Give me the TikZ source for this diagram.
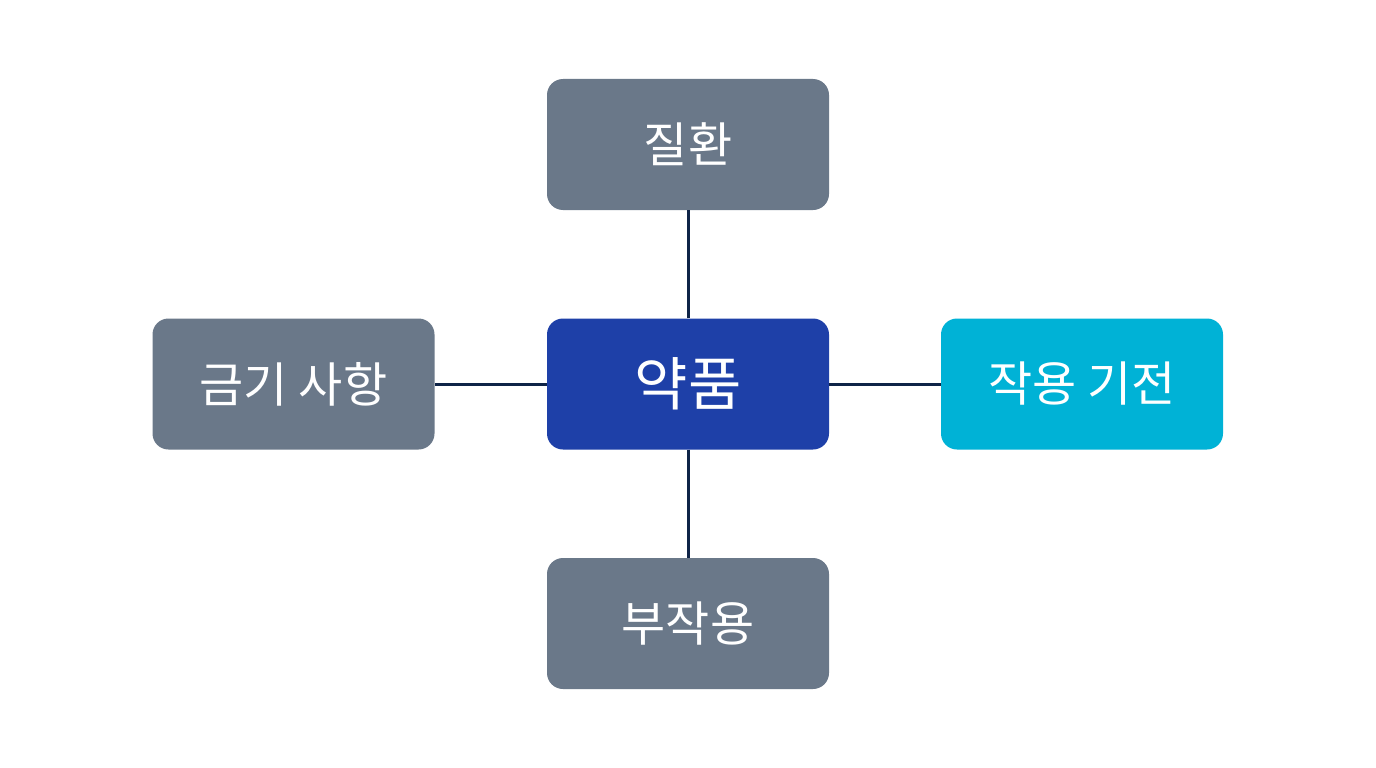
\documentclass[tikz,border=0pt]{standalone}
\usepackage{fontspec}
\newfontfamily\cjk{Noto Sans CJK KR}
\definecolor{grayc}{HTML}{6A7889}
\definecolor{bluec}{HTML}{1E40A8}
\definecolor{cyanc}{HTML}{00B2D6}
\definecolor{linec}{HTML}{0F2447}
\tikzset{
  box/.style={rounded corners=16pt, minimum width=282pt, minimum height=131pt, inner sep=0pt, text=white, font=\cjk\fontsize{48}{54}\selectfont},
  conn/.style={draw=linec, line width=3pt}
}
\begin{document}
\begin{tikzpicture}[x=1pt,y=-1pt]
\useasboundingbox[fill=white] (0,0) rectangle (1376,768);
\node[box, fill=bluec, font=\cjk\fontsize{58}{64}\selectfont] (c) at (688,384) {약품};
\node[box, fill=grayc] (t) at (688,144.5) {질환};
\node[box, fill=grayc] (b) at (688,623.5) {부작용};
\node[box, fill=grayc] (l) at (293.5,384) {금기 사항};
\node[box, fill=cyanc] (r) at (1082,384) {작용 기전};
\draw[conn] (c) -- (t);
\draw[conn] (c) -- (b);
\draw[conn] (c) -- (l);
\draw[conn] (c) -- (r);
\end{tikzpicture}
\end{document}
